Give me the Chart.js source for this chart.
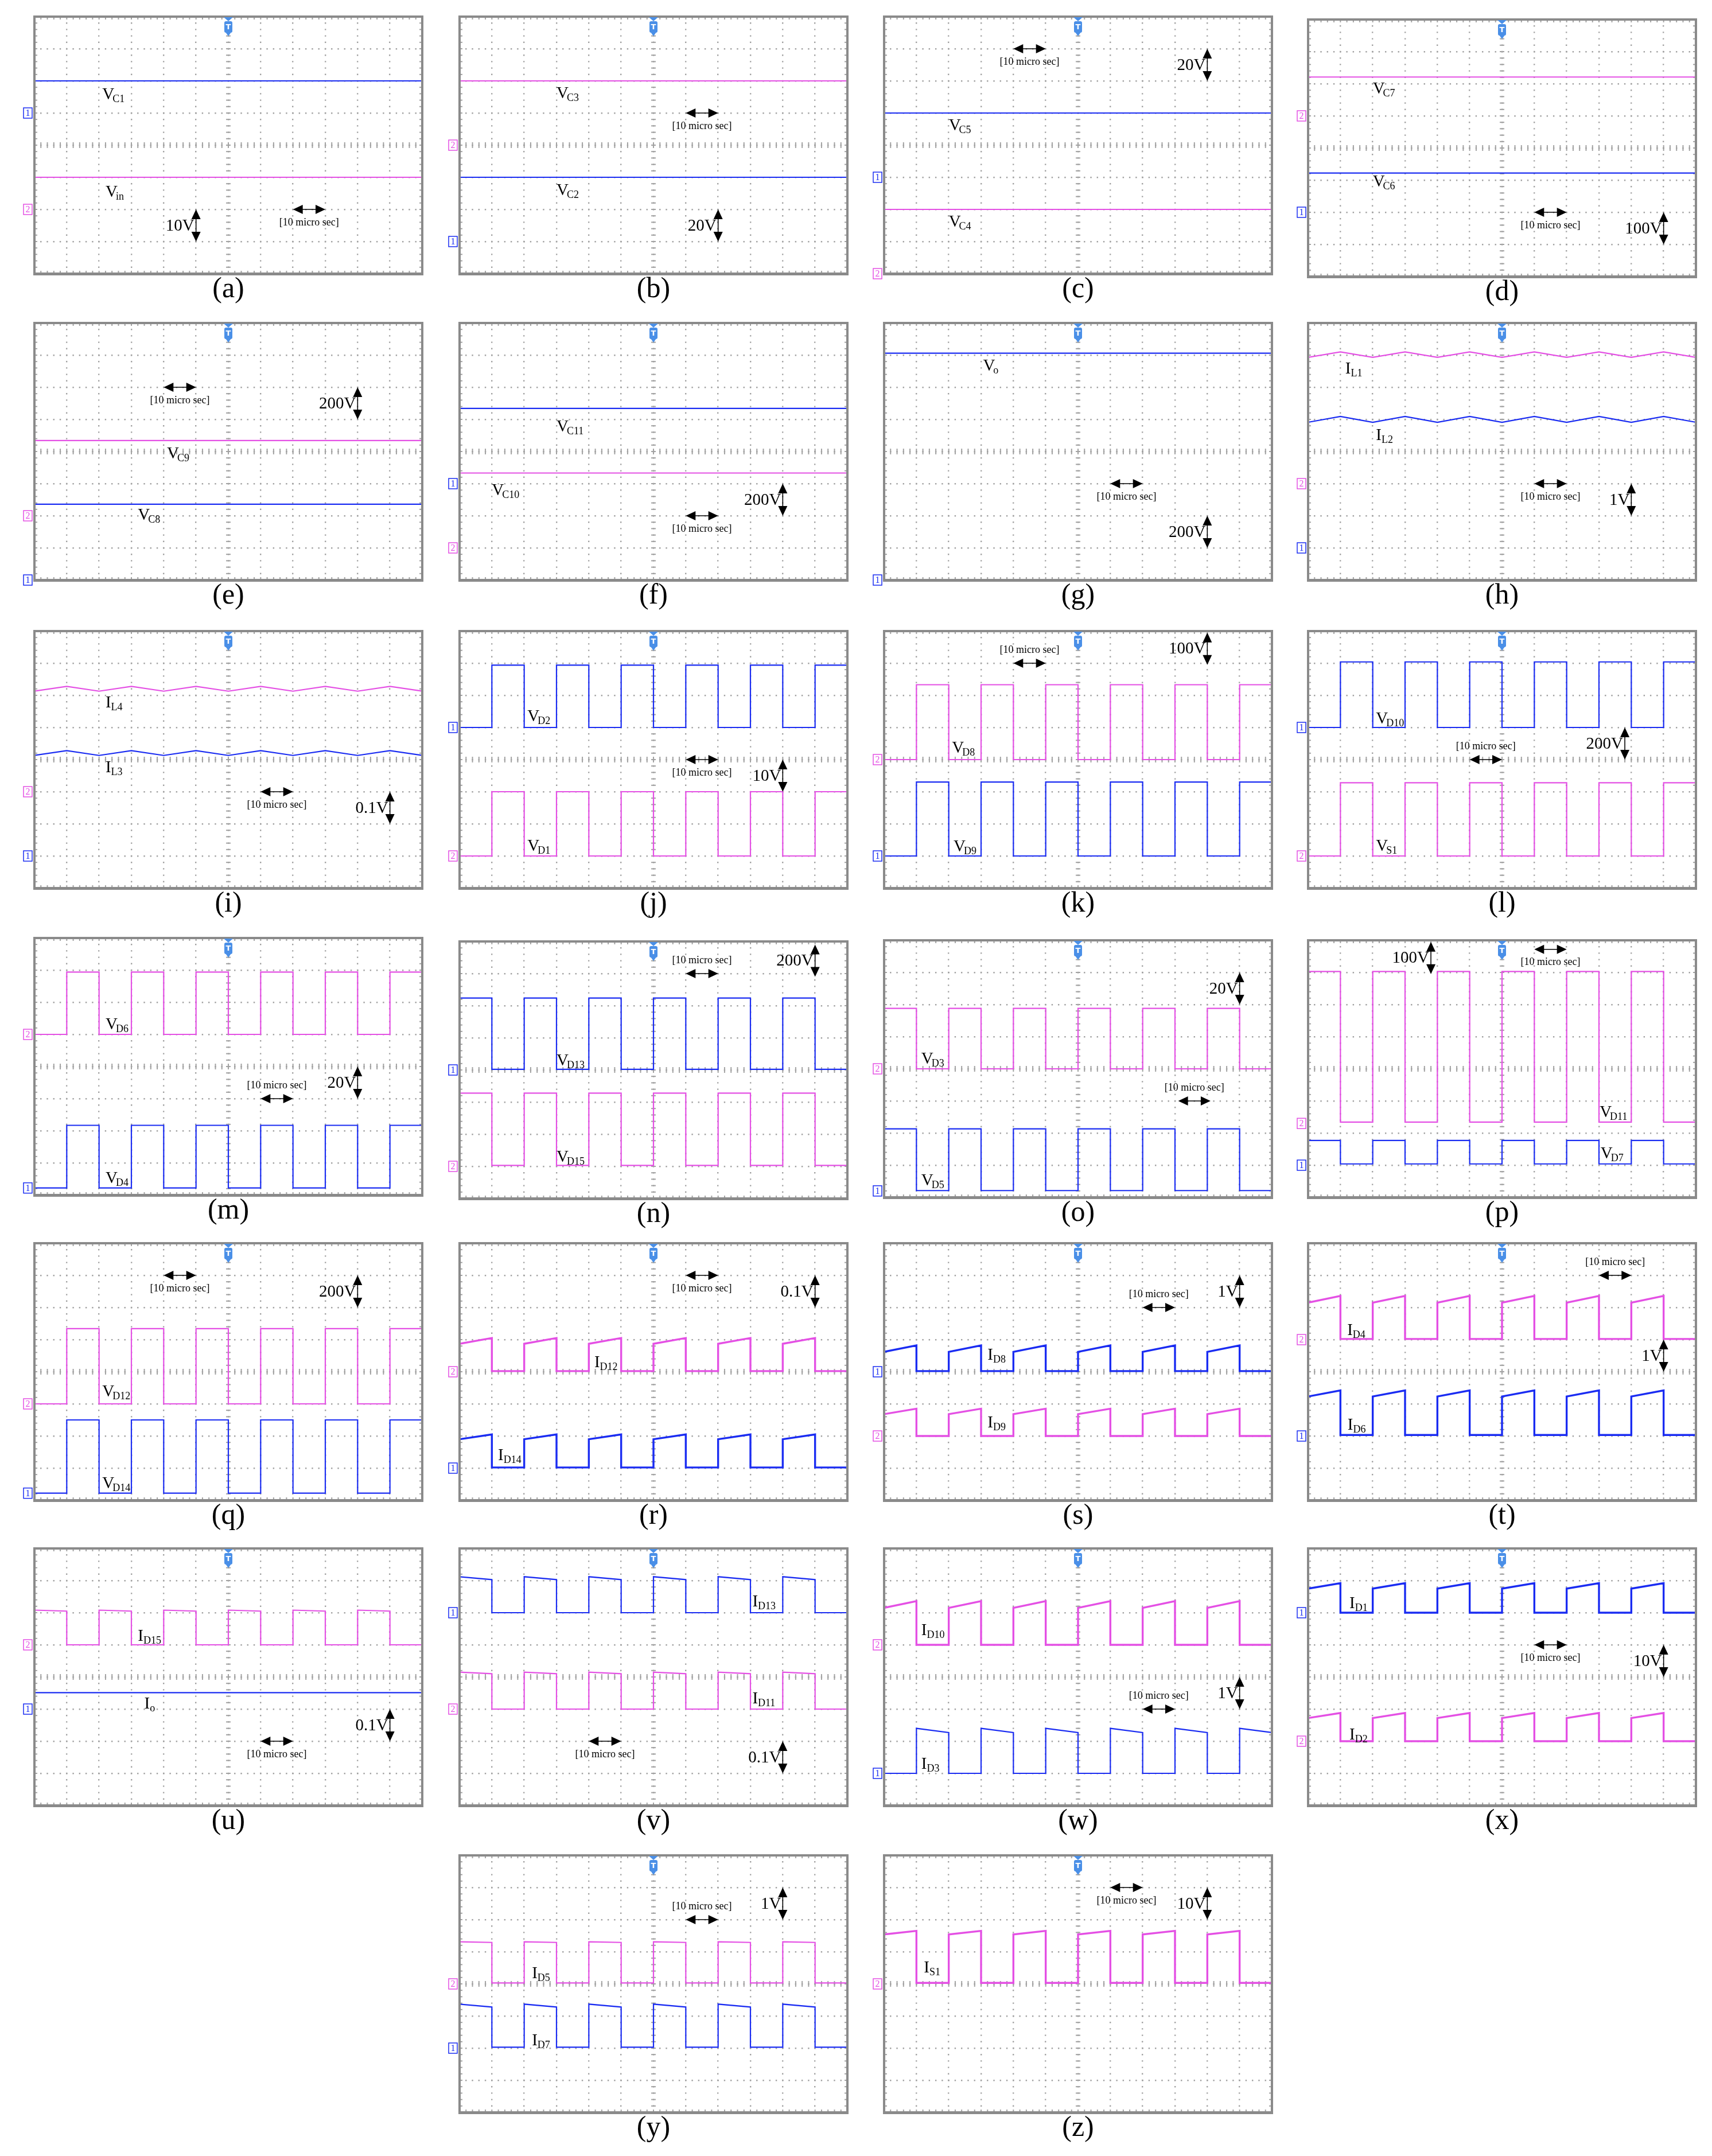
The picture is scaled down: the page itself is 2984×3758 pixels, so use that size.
<!DOCTYPE html>
<html>
<head>
<meta charset="utf-8">
<script src="https://cdn.jsdelivr.net/npm/chart.js@4.4.1/dist/chart.umd.min.js"></script>
<style>
  html, body { margin: 0; padding: 0; background: #fff; }
  body { width: 2984px; height: 3758px; position: relative; overflow: hidden; }
  canvas { position: absolute; }
</style>
</head>
<body>
<script>
// all values are in scope divisions: x 0..12, y 0..8 (bottom = 0)
const panelTags = ['(a)','(b)','(c)','(d)','(e)','(f)','(g)','(h)','(i)','(j)','(k)','(l)','(m)',
                   '(n)','(o)','(p)','(q)','(r)','(s)','(t)','(u)','(v)','(w)','(x)','(y)','(z)'];
const panelCol = [0,1,2,3, 0,1,2,3, 0,1,2,3, 0,1,2,3, 0,1,2,3, 0,1,2,3, 1,2];
const panelRow = [0,0,0,0, 1,1,1,1, 2,2,2,2, 3,3,3,3, 4,4,4,4, 5,5,5,5, 6,6];

// switching instants of the waveforms
const switchTimes = [0,1,2,3,4,5,6,7,8,9,10,11,12];

// channel 1 (blue)
const blueName  = ['V|C1','V|C2','V|C5','V|C6','V|C8','V|C11','V|o','I|L2','I|L3','V|D2','V|D9','V|D10','V|D4',
                   'V|D13','V|D5','V|D7','V|D14','I|D14','I|D8','I|D6','I|o','I|D13','I|D3','I|D1','I|D7',null];
const blueKind  = ['dc','dc','dc','dc','dc','dc','dc','tri','tri','pulse','pulse','pulse','pulse',
                   'pulse','pulse','pulse','pulse','pulse','pulse','pulse','dc','pulse','pulse','pulse','pulse',null];
const blueBase  = [6.0,3.0,5.0,3.22,2.36,5.34,7.06,4.91,4.13,5.0,1.0,5.0,0.22,
                   4.02,0.21,1.04,0.22,1.02,4.02,2.03,3.51,6.0,1.0,6.0,2.03,null];
const blueTop   = [null,null,null,null,null,null,null,5.09,4.28,6.94,3.3,7.04,2.17,
                   6.24,2.13,1.77,2.5,1.9,4.62,3.23,null,7.12,2.4,6.75,3.37,null];
const blueTopEnd= [null,null,null,null,null,null,null,5.09,4.28,6.94,3.3,7.04,2.17,
                   6.24,2.13,1.77,2.5,2.05,4.82,3.42,null,7.03,2.27,6.92,3.28,null];
const bluePhase = [0,0,0,0,0,0,0,0,0,1,1,1,1, 0,0,0,1,0,0,0,0,0,1,0,0,0];
const blueGround= [5,1,3,2,0,3,0,1,1,5,1,5,0.22, 4,0.2,1,0.22,1,4,2,3,6,1,6,2,null];

// channel 2 (magenta)
const pinkName  = ['V|in','V|C3','V|C4','V|C7','V|C9','V|C10',null,'I|L1','I|L4','V|D1','V|D8','V|S1','V|D6',
                   'V|D15','V|D3','V|D11','V|D12','I|D12','I|D9','I|D4','I|D15','I|D11','I|D10','I|D2','I|D5','I|S1'];
const pinkKind  = ['dc','dc','dc','dc','dc','dc',null,'tri','tri','pulse','pulse','pulse','pulse',
                   'pulse','pulse','pulse','pulse','pulse','pulse','pulse','pulse','pulse','pulse','pulse','pulse','pulse'];
const pinkBase  = [3.0,6.0,2.0,6.21,4.34,3.33,null,6.93,6.13,1.0,4.0,1.0,5.0,
                   1.03,4.0,2.34,3.0,4.02,2.0,5.02,5.0,3.0,5.0,2.0,4.03,4.03];
const pinkTop   = [null,null,null,null,null,null,null,7.1,6.28,3.0,6.33,3.28,6.94,
                   3.28,5.88,7.03,5.34,4.87,2.68,6.15,6.08,4.15,6.15,2.72,5.31,5.54];
const pinkTopEnd= [null,null,null,null,null,null,null,7.1,6.28,3.0,6.33,3.28,6.94,
                   3.28,5.88,7.03,5.34,5.05,2.85,6.36,6.05,4.1,6.36,2.88,5.29,5.65];
const pinkPhase = [0,0,0,0,0,0,0,0,0,1,1,1,1, 0,0,0,1,0,0,0,0,0,0,0,0,0];
const pinkGround= [2,4,0,5,2,1,null,3,3,1,4,1,5, 1,4,2.3,3,4,2,5,5,3,5,2,4,4];

// vertical and time scale captions
const voltText  = ['10V','20V','20V','100V','200V','200V','200V','1V','0.1V','10V','100V','200V','20V',
                   '200V','20V','100V','200V','0.1V','1V','1V','0.1V','0.1V','1V','10V','1V','10V'];
const timeText  = '[10 micro sec]';

// annotation placement (divisions)
const blueLabelX = [2.1,3.0,2.0,2.0,3.2,3.0,3.06,2.1,2.2,2.1,2.15,2.1,2.2, 3.0,1.15,9.05,2.1,1.19,3.2,1.22,3.4,9.06,1.15,1.28,2.24,null];
const blueLabelY = [5.6,2.62,4.65,2.98,2.05,4.81,6.7,4.54,3.78,5.37,1.32,5.31,0.56, 4.32,0.56,1.4,0.56,1.43,4.56,2.37,3.2,6.38,1.33,6.32,2.27,null];
const pinkLabelX = [2.2,3.0,2.0,2.0,4.1,1.0,null,1.15,2.2,2.1,2.1,2.1,2.2, 3.0,1.15,9.02,2.1,4.17,3.2,1.21,3.2,9.06,1.15,1.28,2.24,1.23];
const pinkLabelY = [2.58,5.64,1.64,5.87,3.97,2.83,null,6.6,5.8,1.34,4.4,1.34,5.34, 1.32,4.34,2.67,3.41,4.32,2.45,5.33,5.3,3.35,5.48,2.23,4.36,4.53];
const voltArrowX   = [5,8,10,11,10,10,10,10,11,10,10,9.8,10, 11,11,3.8,10,11,11,11,11,10,11,11,10,10];
const voltArrowTop = [2,2,7,2,6,3,2,3,3,4,7.95,5,4, 7.9,7,7.95,7,7,7,5,3,2,4,5,7,7];
const timeArrowX   = [8,7,4,7,4,7,7,7,7,7,4,5,7, 7,9.1,7,4,7,8,9,7,4,8,7,7,7];
const timeArrowY   = [2,5,7,2,6,2,3,3,3,4,7,4,3, 7,3,7.72,7,7,6,7,2,2,3,5,6,7];
const timeTextSide = [1,1,1,1,1,1,1,1,1,1,-1,-1,-1, -1,-1,1,1,1,-1,-1,1,1,-1,1,-1,1];

// page layout (px)
const colLeft = [60, 801, 1541, 2280];
const rowTop = [29, 563, 1100, 1635, 2167, 2699, 3234];
const panelShift = [0,0,0,5, 0,0,0,0, 0,0,0,0, 0,6,4,4, 0,0,0,0, 0,0,0,0, 0,0];
const W = 676, H = 448;
const PAD_L = 30, PAD_R = 12, PAD_T = 12, PAD_B = 72;

const BLUE = '#1a2cf2', PINK = '#e450e4', GRID = '#a2a2a2', FRAME = '#8a8a8a', TRIG = '#4a8fe7';
const SERIF = '"Liberation Serif", "Times New Roman", serif';

function traceData(kind, base, top, topEnd, phase) {
  if (kind === 'dc') return [{x: 0, y: base}, {x: 12, y: base}];
  const pts = [];
  if (kind === 'tri') {
    switchTimes.forEach(t => pts.push({x: t, y: t % 2 === 1 ? top : base}));
    return pts;
  }
  const n = switchTimes.length - 1;
  for (let k = 0; k < n; k++) {
    const t0 = switchTimes[k], t1 = switchTimes[k + 1];
    const high = Math.abs(k - phase) % 2 === 0;
    if (high) {
      if (k > 0) pts.push({x: t0, y: base});
      pts.push({x: t0, y: top}, {x: t1, y: topEnd});
      if (k < n - 1) pts.push({x: t1, y: base});
    } else {
      pts.push({x: t0, y: base}, {x: t1, y: base});
    }
  }
  return pts;
}

// rising-ramp diode currents are visibly noisier (thicker) on the scope
function traceWidth(top, topEnd) {
  return (top !== null && topEnd > top + 0.1) ? 3.4 : 2.2;
}

function line(ctx, x1, y1, x2, y2) {
  ctx.beginPath(); ctx.moveTo(x1, y1); ctx.lineTo(x2, y2); ctx.stroke();
}

function head(ctx, tx, ty, dx, dy) {
  const L = 17, S = 8;
  ctx.beginPath();
  ctx.moveTo(tx, ty);
  ctx.lineTo(tx - dx * L - dy * S, ty - dy * L + dx * S);
  ctx.lineTo(tx - dx * L + dy * S, ty - dy * L - dx * S);
  ctx.closePath();
  ctx.fill();
}

function drawName(ctx, name, px, py) {
  const [main, sub] = name.split('|');
  ctx.fillStyle = '#000';
  ctx.textAlign = 'left';
  ctx.textBaseline = 'alphabetic';
  ctx.font = '29px ' + SERIF;
  const base = py + 10;
  ctx.fillText(main, px, base);
  const w = ctx.measureText(main).width;
  ctx.font = '18px ' + SERIF;
  ctx.fillText(sub, px + w - (main === 'V' ? 3 : 0), base + 5);
}

function drawMarker(ctx, a, py, num, color) {
  ctx.strokeStyle = color; ctx.lineWidth = 1.5;
  ctx.strokeRect(a.left - 19, py - 9, 15, 18);
  ctx.fillStyle = color;
  ctx.font = '16px ' + SERIF;
  ctx.textAlign = 'center'; ctx.textBaseline = 'middle';
  ctx.fillText(num, a.left - 11.5, py + 1);
}

const scopePlugin = {
  id: 'scope',
  beforeDatasetsDraw(chart, args, opts) {
    const {ctx, chartArea: a, scales: {x, y}} = chart;
    ctx.save();
    ctx.strokeStyle = GRID;
    ctx.lineWidth = 2;
    const cx = x.getPixelForValue(6), cy = y.getPixelForValue(4);
    for (let k = 0; k <= 40; k++) {
      const py = y.getPixelForValue(k / 5);
      line(ctx, cx - 4, py, cx + 4, py);
      line(ctx, a.left, py, a.left + 5, py);
      line(ctx, a.right - 5, py, a.right, py);
    }
    for (let k = 0; k <= 60; k++) {
      const px = x.getPixelForValue(k / 5);
      line(ctx, px, cy - 5, px, cy + 5);
      line(ctx, px, a.top, px, a.top + 5);
      line(ctx, px, a.bottom - 5, px, a.bottom);
    }
    ctx.restore();
  },
  afterDraw(chart, args, opts) {
    const i = opts.idx;
    const {ctx, chartArea: a, scales: {x, y}} = chart;
    ctx.save();
    // frame
    ctx.strokeStyle = FRAME; ctx.lineWidth = 4;
    ctx.strokeRect(a.left, a.top, a.right - a.left, a.bottom - a.top);
    ctx.fillStyle = FRAME;
    ctx.fillRect(a.left - 2, a.bottom, a.right - a.left + 4, 3);

    // trigger marker
    const cx = x.getPixelForValue(6), t = a.top;
    ctx.fillStyle = TRIG;
    ctx.beginPath(); ctx.moveTo(cx - 8, t + 1); ctx.lineTo(cx + 8, t + 1); ctx.lineTo(cx, t + 8); ctx.closePath(); ctx.fill();
    ctx.beginPath(); ctx.roundRect(cx - 7, t + 8, 14, 20, 3); ctx.fill();
    ctx.beginPath(); ctx.moveTo(cx - 5, t + 27); ctx.lineTo(cx + 5, t + 27); ctx.lineTo(cx, t + 34); ctx.closePath(); ctx.fill();
    ctx.fillStyle = '#fff';
    ctx.font = 'bold 13px "DejaVu Sans"';
    ctx.textAlign = 'center'; ctx.textBaseline = 'middle';
    ctx.fillText('T', cx, t + 18.5);

    // ground markers
    if (blueGround[i] !== null) drawMarker(ctx, a, y.getPixelForValue(blueGround[i]), '1', BLUE);
    if (pinkGround[i] !== null) drawMarker(ctx, a, y.getPixelForValue(pinkGround[i]), '2', PINK);

    // trace names
    if (blueName[i]) drawName(ctx, blueName[i], x.getPixelForValue(blueLabelX[i]), y.getPixelForValue(blueLabelY[i]));
    if (pinkName[i]) drawName(ctx, pinkName[i], x.getPixelForValue(pinkLabelX[i]), y.getPixelForValue(pinkLabelY[i]));

    // volts/div arrow
    ctx.fillStyle = '#000'; ctx.strokeStyle = '#000'; ctx.lineWidth = 1.6;
    const vx = x.getPixelForValue(voltArrowX[i]);
    const vy1 = y.getPixelForValue(voltArrowTop[i]), vy2 = y.getPixelForValue(voltArrowTop[i] - 1);
    line(ctx, vx, vy1 + 10, vx, vy2 - 10);
    head(ctx, vx, vy1, 0, -1);
    head(ctx, vx, vy2, 0, 1);
    ctx.font = '29px ' + SERIF;
    ctx.textAlign = 'right'; ctx.textBaseline = 'middle';
    ctx.fillText(voltText[i], vx - 3, (vy1 + vy2) / 2 + 1);

    // time/div arrow
    const tx1 = x.getPixelForValue(timeArrowX[i]), tx2 = x.getPixelForValue(timeArrowX[i] + 1);
    const ty = y.getPixelForValue(timeArrowY[i]);
    line(ctx, tx1 + 10, ty, tx2 - 10, ty);
    head(ctx, tx1, ty, -1, 0);
    head(ctx, tx2, ty, 1, 0);
    ctx.font = '18px ' + SERIF;
    ctx.textAlign = 'center'; ctx.textBaseline = 'middle';
    ctx.fillText(timeText, (tx1 + tx2) / 2, ty + timeTextSide[i] * 23);

    // panel tag
    ctx.font = '50px ' + SERIF;
    ctx.textAlign = 'center'; ctx.textBaseline = 'alphabetic';
    ctx.fillText(panelTags[i], (a.left + a.right) / 2, a.bottom + 41);
    ctx.restore();
  }
};

function gridScale(max, period) {
  return {
    type: 'linear', min: 0, max: max,
    ticks: {display: false, stepSize: 1},
    grid: {color: GRID, lineWidth: 2.4, drawTicks: false},
    border: {display: false, dash: [2.4, period - 2.4], dashOffset: 1.2}
  };
}

panelTags.forEach((tag, i) => {
  const left = colLeft[panelCol[i]], top = rowTop[panelRow[i]] + panelShift[i];
  const cv = document.createElement('canvas');
  cv.width = W + PAD_L + PAD_R;
  cv.height = H + PAD_T + PAD_B;
  cv.style.left = (left - PAD_L) + 'px';
  cv.style.top = (top - PAD_T) + 'px';
  document.body.appendChild(cv);

  const datasets = [];
  if (blueKind[i]) datasets.push({
    label: blueName[i], data: traceData(blueKind[i], blueBase[i], blueTop[i], blueTopEnd[i], bluePhase[i]),
    borderColor: BLUE, borderWidth: traceWidth(blueTop[i], blueTopEnd[i]), pointRadius: 0, tension: 0, fill: false
  });
  if (pinkKind[i]) datasets.push({
    label: pinkName[i], data: traceData(pinkKind[i], pinkBase[i], pinkTop[i], pinkTopEnd[i], pinkPhase[i]),
    borderColor: PINK, borderWidth: traceWidth(pinkTop[i], pinkTopEnd[i]), pointRadius: 0, tension: 0, fill: false
  });

  new Chart(cv, {
    type: 'line',
    data: {datasets},
    options: {
      responsive: false, animation: false, devicePixelRatio: 1, events: [],
      layout: {padding: {left: PAD_L, right: PAD_R, top: PAD_T, bottom: PAD_B}},
      plugins: {legend: {display: false}, tooltip: {enabled: false}, scope: {idx: i}},
      scales: {
        x: gridScale(12, H / 40),
        y: gridScale(8, W / 60)
      }
    },
    plugins: [scopePlugin]
  });
});
</script>
</body>
</html>
